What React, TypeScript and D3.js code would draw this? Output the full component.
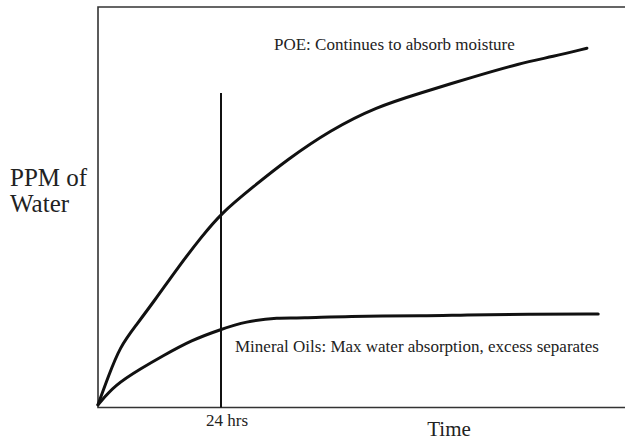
import React from "react";
import * as d3 from "d3";

const poeHours = [0, 2.0, 4.3, 7.2, 11.1, 15.7, 20.2, 24, 30.3, 36.8, 45.3, 54.4, 62.8, 73.2, 82.3, 88.8, 95.4];
const poePpm = [0.3, 7.4, 14.9, 19.9, 26.6, 35.0, 42.5, 48.4, 55.1, 61.8, 69.3, 75.2, 78.6, 82.7, 86.1, 87.8, 89.9];
const mineralHours = [0, 3.3, 8.5, 12.4, 18.3, 24.1, 28.7, 35.2, 39.7, 48.2, 64.4, 71.0, 84.0, 97.6];
const mineralPpm = [0.3, 5.3, 9.5, 12.4, 16.6, 19.3, 21.2, 22.3, 22.0, 22.6, 22.6, 22.9, 23.1, 23.1];
const markerHour = 24;
const markerLabel = "24 hrs";
const poeLabel = "POE: Continues to absorb moisture";
const mineralLabel = "Mineral Oils: Max water absorption, excess separates";
const yLabelLines = ["PPM of", "Water"];
const xLabel = "Time";

export default function App() {
  const W = 625, H = 441;
  const left = 98, right = 625, top = 8, bottom = 406;
  const x = d3.scaleLinear().domain([0, (right - left) / 5.125]).range([left, right]);
  const y = d3.scaleLinear().domain([0, 100]).range([bottom, top]);
  const line = d3.line<[number, number]>().x(d => x(d[0])).y(d => y(d[1])).curve(d3.curveBasis);
  const poe = line(poeHours.map((h, i) => [h, poePpm[i]]) as [number, number][]);
  const min = line(mineralHours.map((h, i) => [h, mineralPpm[i]]) as [number, number][]);
  const font = "'Liberation Serif', 'Times New Roman', Times, serif";
  return (
    <svg width={W} height={H} style={{ position: "absolute", left: 0, top: 0, background: "#fff" }}>
      <path d={`M${right},${top - 1}H${left}V${bottom + 1.5}H${right}`} fill="none" stroke="#333" strokeWidth={1.6} />
      <line x1={x(markerHour)} x2={x(markerHour)} y1={93} y2={bottom + 1.5} stroke="#111" strokeWidth={2} />
      <path d={poe ?? ""} fill="none" stroke="#111" strokeWidth={3} strokeLinecap="round" strokeLinejoin="round" />
      <path d={min ?? ""} fill="none" stroke="#111" strokeWidth={3} strokeLinecap="round" strokeLinejoin="round" />
      <text x={274} y={50} fontFamily={font} fontSize={17} fill="#222">{poeLabel}</text>
      <text x={235} y={352} fontFamily={font} fontSize={17} fill="#222">{mineralLabel}</text>
      <text x={x(markerHour) + 6} y={426} textAnchor="middle" fontFamily={font} fontSize={17} fill="#222">{markerLabel}</text>
      <text x={449} y={436} textAnchor="middle" fontFamily={font} fontSize={21} fill="#222">{xLabel}</text>
      {yLabelLines.map((t, i) => (
        <text key={i} x={10} y={186 + i * 26} fontFamily={font} fontSize={25} fill="#222">{t}</text>
      ))}
    </svg>
  );
}
